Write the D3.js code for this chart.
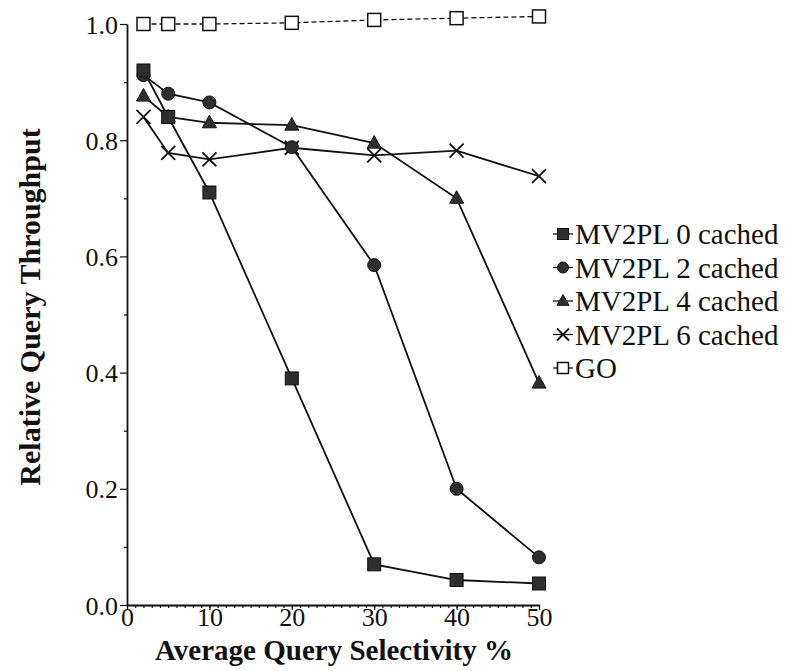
<!DOCTYPE html>
<html><head><meta charset="utf-8">
<script src="https://cdn.jsdelivr.net/npm/d3@7"></script>
<style>body{margin:0;background:#fff}svg{display:block}svg text{font-family:'Liberation Serif','Times New Roman',Times,serif}</style>
</head><body>
<svg id="c" width="792" height="671"></svg>
<script>
// ---- data ----
const selectivity = [2, 5, 10, 20, 30, 40, 50];
const mv2pl0 = [0.920, 0.840, 0.710, 0.390, 0.070, 0.043, 0.037];
const mv2pl2 = [0.912, 0.880, 0.865, 0.788, 0.585, 0.200, 0.082];
const mv2pl4 = [0.876, 0.840, 0.830, 0.826, 0.795, 0.700, 0.382];
const mv2pl6 = [0.840, 0.778, 0.767, 0.787, 0.774, 0.782, 0.738];
const go     = [1.000, 1.000, 1.000, 1.002, 1.007, 1.010, 1.013];
const seriesNames = ["MV2PL 0 cached", "MV2PL 2 cached", "MV2PL 4 cached", "MV2PL 6 cached", "GO"];
const seriesMarkers = ["square", "circle", "triangle", "cross", "open"];
const xTicks = [0, 10, 20, 30, 40, 50];
const yTicks = [0.0, 0.2, 0.4, 0.6, 0.8, 1.0];
const xMinorTicks = d3.range(0, 51, 1);
const yMinorTicks = [0.1, 0.3, 0.5, 0.7, 0.9];
const xTitle = "Average Query Selectivity %";
const yTitle = "Relative Query Throughput";

const seriesValues = [mv2pl0, mv2pl2, mv2pl4, mv2pl6, go];
const series = seriesNames.map((n, i) => ({
  name: n, marker: seriesMarkers[i],
  pts: selectivity.map((x, j) => ({x, y: seriesValues[i][j]}))
}));

const svg = d3.select("#c");
const FONT = "'Liberation Serif','Times New Roman',Times,serif";
const x = d3.scaleLinear().domain([0, 50]).range([127, 539]);
const y = d3.scaleLinear().domain([0, 1]).range([605, 24]);
const INK = "#111";
const FILL = "#2e2e2e";

// ---- axes ----
const gy = svg.append("g").attr("transform", `translate(${x(0)},0)`);
gy.call(d3.axisLeft(y).tickValues(yTicks).tickFormat(d3.format(".1f")).tickSize(7).tickSizeOuter(0).tickPadding(2));
const gyMinor = svg.append("g").attr("transform", `translate(${x(0)},0)`);
gyMinor.call(d3.axisLeft(y).tickValues(yMinorTicks).tickFormat("").tickSize(3).tickSizeOuter(0));
gyMinor.select(".domain").remove();

const gx = svg.append("g").attr("transform", `translate(0,${y(0)})`);
gx.call(d3.axisBottom(x).tickValues(xTicks).tickSize(5).tickSizeOuter(0).tickPadding(0));
const gxMinor = svg.append("g").attr("transform", `translate(0,${y(0)})`);
gxMinor.call(d3.axisBottom(x).tickValues(xMinorTicks).tickFormat("").tickSize(3).tickSizeOuter(0));
gxMinor.select(".domain").remove();

svg.selectAll("g").attr("font-family", FONT);
svg.selectAll(".domain").attr("stroke", INK).attr("stroke-width", 1.8);
svg.selectAll(".tick line").attr("stroke", INK).attr("stroke-width", 1.2);
gy.selectAll(".tick text").style("font-family", FONT).attr("font-size", 26).attr("fill", INK).attr("dy", "0.35em");
gx.selectAll(".tick text").style("font-family", FONT).attr("font-size", 26).attr("fill", INK)
  .attr("y", 0).attr("dy", null)
  .attr("transform", "translate(0,21)");

// ---- axis titles ----
svg.append("text").attr("x", 334).attr("y", 660)
  .attr("text-anchor", "middle").style("font-family", FONT).attr("font-weight", "bold")
  .attr("font-size", 29).attr("fill", INK).text(xTitle);
svg.append("text").attr("transform", `translate(40,${307}) rotate(-90)`)
  .attr("text-anchor", "middle").style("font-family", FONT).attr("font-weight", "bold")
  .attr("font-size", 30).attr("fill", INK).text(yTitle);

// ---- markers ----
function drawMarker(g, type, cx, cy, s) {
  if (type === "square") {
    g.append("rect").attr("x", cx - s / 2).attr("y", cy - s / 2).attr("width", s).attr("height", s)
      .attr("fill", FILL).attr("stroke", INK).attr("stroke-width", 1);
  } else if (type === "open") {
    g.append("rect").attr("x", cx - s / 2).attr("y", cy - s / 2).attr("width", s).attr("height", s)
      .attr("fill", "#fff").attr("stroke", INK).attr("stroke-width", 1.5);
  } else if (type === "circle") {
    g.append("circle").attr("cx", cx).attr("cy", cy).attr("r", s / 2)
      .attr("fill", FILL).attr("stroke", INK).attr("stroke-width", 1);
  } else if (type === "triangle") {
    const h = s * 0.9;
    g.append("path").attr("d", `M${cx},${cy - h * 0.6}L${cx + s / 2},${cy + h * 0.4}L${cx - s / 2},${cy + h * 0.4}Z`)
      .attr("fill", FILL).attr("stroke", INK).attr("stroke-width", 1);
  } else if (type === "cross") {
    const r = s / 2;
    g.append("path").attr("d", `M${cx - r},${cy - r}L${cx + r},${cy + r}M${cx - r},${cy + r}L${cx + r},${cy - r}`)
      .attr("stroke", INK).attr("stroke-width", 1.8).attr("fill", "none");
  }
}

const line = d3.line().x(d => x(d.x)).y(d => y(d.y));
const order = [3, 2, 1, 0, 4];
const gLines = svg.append("g");
const gMarks = svg.append("g");
order.forEach(i => {
  const s = series[i];
  gLines.append("path").attr("d", line(s.pts)).attr("fill", "none").attr("stroke", INK)
    .attr("stroke-width", s.marker === "open" ? 1.3 : 1.8)
    .attr("stroke-dasharray", s.marker === "open" ? "5,3" : null);
});
order.forEach(i => {
  const s = series[i];
  const size = {square: 13, open: 13, circle: 13, triangle: 14, cross: 14}[s.marker];
  s.pts.forEach(p => drawMarker(gMarks, s.marker, x(p.x), y(p.y), size));
});

// ---- legend ----
const lg = svg.append("g");
series.forEach((s, i) => {
  const cy = 234 + i * 33.5;
  lg.append("line").attr("x1", 553).attr("x2", 573).attr("y1", cy).attr("y2", cy)
    .attr("stroke", INK).attr("stroke-width", 1.3);
  const ls = {square: 11, open: 11, circle: 11, triangle: 12, cross: 12}[s.marker];
  drawMarker(lg, s.marker, 563, cy, ls);
  lg.append("text").attr("x", 575).attr("y", cy + 10).style("font-family", FONT)
    .attr("font-size", 29).attr("fill", INK).text(s.name);
});
</script>
</body></html>
